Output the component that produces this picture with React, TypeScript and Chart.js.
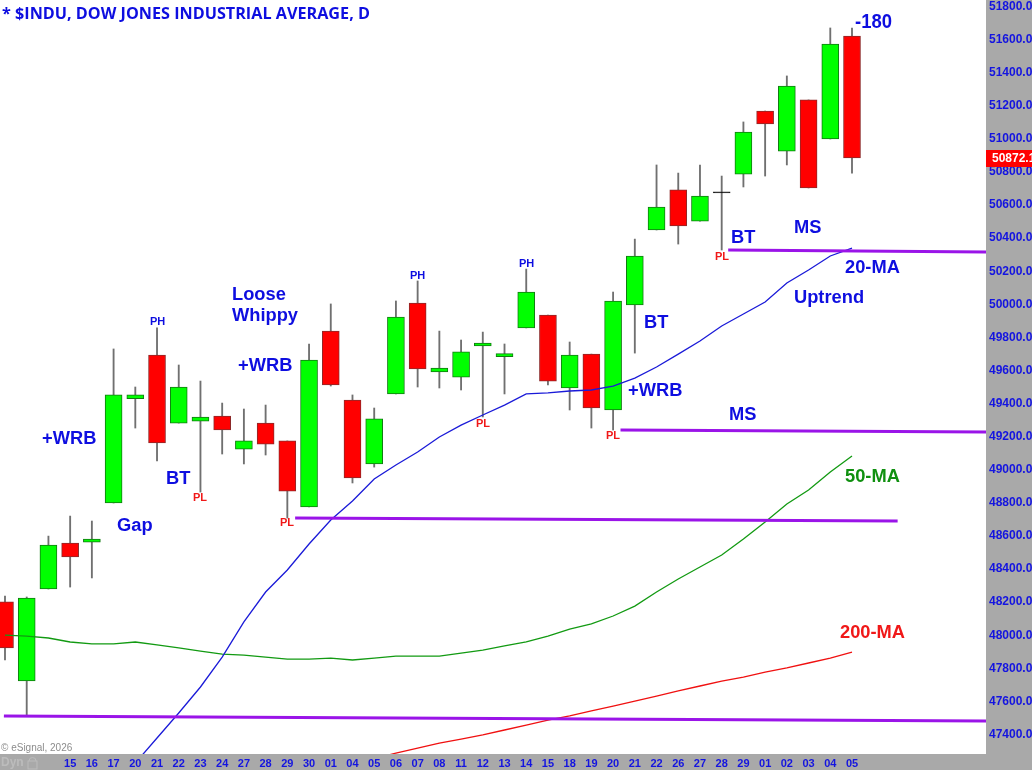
import React, { useEffect, useRef } from "react";
import { Chart, registerables } from "chart.js";

Chart.register(...registerables);

const dayLabels = ["", "", "", "15", "16", "17", "20", "21", "22", "23", "24", "27", "28", "29", "30", "01", "04", "05", "06", "07", "08", "11", "12", "13", "14", "15", "18", "19", "20", "21", "22", "26", "27", "28", "29", "01", "02", "03", "04", "05"];
const opens = [48192, 47714, 48270, 48548, 48554, 48790, 49421, 49684, 49273, 49285, 49316, 49116, 49273, 49165, 48766, 49829, 49412, 49026, 49449, 49999, 49582, 49551, 49739, 49675, 49848, 49926, 49485, 49690, 49352, 49987, 50440, 50682, 50494, 50664, 50778, 51159, 50917, 51226, 50990, 51612];
const highs = [48228, 48222, 48590, 48711, 48681, 49721, 49491, 49848, 49624, 49527, 49394, 49358, 49382, 49165, 49751, 49993, 49443, 49364, 50011, 50132, 49829, 49775, 49823, 49751, 50204, 49926, 49763, 49690, 50065, 50385, 50833, 50784, 50833, 50766, 51093, 51159, 51371, 51226, 51661, 51661];
const lows = [47841, 47502, 48270, 48282, 48337, 48790, 49243, 49044, 49273, 48856, 49086, 49026, 49080, 48699, 48766, 49497, 48911, 49007, 49449, 49491, 49485, 49473, 49310, 49449, 49848, 49503, 49352, 49243, 49231, 49696, 50440, 50355, 50494, 50319, 50700, 50766, 50833, 50694, 50990, 50784];
const closes = [47914, 48216, 48536, 48464, 48572, 49443, 49443, 49153, 49491, 49310, 49231, 49165, 49146, 48862, 49654, 49503, 48941, 49298, 49914, 49600, 49606, 49703, 49757, 49693, 50065, 49527, 49684, 49364, 50011, 50283, 50579, 50464, 50645, 50664, 51032, 51081, 51310, 50694, 51564, 50875];
const ma20 = [null, null, null, null, null, null, 47218, 47370, 47521, 47678, 47859, 48071, 48252, 48385, 48542, 48687, 48802, 48935, 49020, 49098, 49189, 49261, 49322, 49382, 49449, 49455, 49467, 49473, 49497, 49545, 49612, 49690, 49769, 49860, 49932, 50005, 50120, 50198, 50283, 50331];
const ma50 = [47992, 47986, 47974, 47950, 47938, 47938, 47950, 47932, 47914, 47895, 47877, 47871, 47859, 47847, 47847, 47853, 47841, 47853, 47865, 47865, 47865, 47883, 47901, 47926, 47950, 47986, 48028, 48059, 48107, 48167, 48252, 48331, 48403, 48476, 48572, 48675, 48784, 48868, 48977, 49074];
const ma200 = [null, null, null, null, null, null, null, null, null, null, null, null, null, null, null, null, null, 47243, 47279, 47309, 47339, 47363, 47388, 47418, 47448, 47478, 47503, 47533, 47563, 47593, 47623, 47654, 47684, 47714, 47738, 47768, 47793, 47823, 47853, 47889];
const levelLow = [{ x: -0.05, y: 47502 }, { x: 45.17, y: 47472 }];
const levelMid = [{ x: 13.36, y: 48699 }, { x: 41.1, y: 48681 }];
const levelHigh = [{ x: 28.34, y: 49231 }, { x: 45.17, y: 49219 }];
const levelTop = [{ x: 33.3, y: 50319 }, { x: 45.17, y: 50307 }];
const lastPrice = "50872.1";

const BLUE = "#0e0ee0";
const RED = "#f01818";
const GREEN = "#109010";
const BIG = "bold 18.3px 'Liberation Sans'";
const SMALL = "bold 11px 'Liberation Sans'";
const notes: [string, number, number, string, string, number?][] = [
  ["+WRB", 42, 439, BIG, BLUE],
  ["Gap", 117, 526, BIG, BLUE],
  ["BT", 166, 479, BIG, BLUE],
  ["Loose", 232, 295, BIG, BLUE],
  ["Whippy", 232, 316, BIG, BLUE],
  ["+WRB", 238, 366, BIG, BLUE],
  ["BT", 644, 323, BIG, BLUE],
  ["+WRB", 628, 391, BIG, BLUE],
  ["MS", 729, 415, BIG, BLUE],
  ["BT", 731, 238, BIG, BLUE],
  ["MS", 794, 228, BIG, BLUE],
  ["20-MA", 845, 268, BIG, BLUE],
  ["Uptrend", 794, 298, BIG, BLUE],
  ["50-MA", 845, 477, BIG, GREEN],
  ["200-MA", 840, 633, BIG, RED],
  ["-180", 855, 22, "bold 21px 'Liberation Sans'", BLUE, 37],
  ["PH", 150, 322, SMALL, BLUE],
  ["PH", 410, 276, SMALL, BLUE],
  ["PH", 519, 264, SMALL, BLUE],
  ["PL", 193, 498, SMALL, RED],
  ["PL", 280, 523, SMALL, RED],
  ["PL", 476, 424, SMALL, RED],
  ["PL", 606, 436, SMALL, RED],
  ["PL", 715, 257, SMALL, RED],
];

const paintPlugin = {
  id: "paint",
  beforeDraw(chart: any) {
    const { ctx, chartArea: a, width, height } = chart;
    ctx.save();
    ctx.fillStyle = "#a9a9a9";
    ctx.fillRect(0, 0, width, height);
    ctx.fillStyle = "#ffffff";
    ctx.fillRect(a.left, a.top, a.right - a.left, a.bottom - a.top);
    ctx.restore();
  },
  afterDraw(chart: any) {
    const { ctx, chartArea: a } = chart;
    ctx.save();
    ctx.textBaseline = "middle";
    ctx.textAlign = "left";
    for (const [t, x, y, font, color, maxW] of notes) {
      ctx.font = font;
      ctx.fillStyle = color;
      if (maxW) ctx.fillText(t, x, y, maxW);
      else ctx.fillText(t, x, y);
    }
    ctx.font = "bold 16.2px 'Open Sans'";
    ctx.fillStyle = BLUE;
    ctx.fillText("* $INDU, DOW JONES INDUSTRIAL AVERAGE, D", 2, 14);
    ctx.font = "10px 'Liberation Sans'";
    ctx.fillStyle = "#8c8c8c";
    ctx.fillText("© eSignal, 2026", 1, 748);
    ctx.font = "bold 12px 'Liberation Sans'";
    ctx.fillStyle = "#bcbcbc";
    ctx.fillText("Dyn", 1, 763);
    ctx.strokeStyle = "#bcbcbc";
    ctx.lineWidth = 1;
    ctx.strokeRect(28, 761, 9, 8);
    ctx.beginPath();
    ctx.arc(32.5, 761, 3.5, Math.PI, 0);
    ctx.stroke();
    // current price tag
    ctx.fillStyle = "#ff0000";
    ctx.fillRect(a.right, 150, 46, 17);
    ctx.fillStyle = "#ffffff";
    ctx.font = "bold 12px 'Liberation Sans'";
    ctx.fillText(lastPrice, 992, 159);
    ctx.restore();
  },
};

const points = (vals: (number | null)[]) => vals.map((y, x) => ({ x, y }));
const lineSet = (data: any[], color: string, width: number) => ({
  type: "line" as const,
  data,
  borderColor: color,
  backgroundColor: color,
  borderWidth: width,
  pointRadius: 0,
  tension: 0,
  spanGaps: false,
  order: 0,
});

export default function App() {
  const ref = useRef<HTMLCanvasElement>(null);
  useEffect(() => {
    const fill = closes.map((c, i) => (c > opens[i] ? "#00ff00" : c < opens[i] ? "#ff0000" : "#000000"));
    const edge = closes.map((c, i) => (c > opens[i] ? "#127a12" : c < opens[i] ? "#8c2a2a" : "#333333"));
    const chart = new Chart(ref.current!, {
      type: "bar",
      data: {
        datasets: [
          lineSet(levelLow, "#9a14e8", 3),
          lineSet(levelMid, "#9a14e8", 3),
          lineSet(levelHigh, "#9a14e8", 3),
          lineSet(levelTop, "#9a14e8", 3),
          lineSet(points(ma20), "#1a1ad8", 1.3),
          lineSet(points(ma50), "#129a12", 1.3),
          lineSet(points(ma200), "#f01010", 1.3),
          {
            data: closes.map((c, i) => ({ x: i, y: [opens[i], c === opens[i] ? c + 6 : c] })),
            backgroundColor: fill,
            borderColor: edge,
            borderWidth: 1,
            borderSkipped: false,
            barThickness: 17,
            grouped: false,
            order: 1,
          },
          {
            data: highs.map((h, i) => ({ x: i, y: [lows[i], h] })),
            backgroundColor: "#707070",
            borderWidth: 0,
            barThickness: 1.2,
            grouped: false,
            order: 2,
          },
        ] as any,
      },
      options: {
        animation: false,
        responsive: false,
        devicePixelRatio: 1,
        layout: { padding: 0 },
        plugins: { legend: { display: false }, tooltip: { enabled: false } },
        scales: {
          x: {
            type: "linear",
            min: -0.23,
            max: 45.17,
            offset: false,
            grid: { display: false, drawTicks: false },
            border: { display: false },
            afterBuildTicks(s: any) {
              s.ticks = dayLabels.map((_, value) => ({ value }));
            },
            afterFit(s: any) {
              s.height = 16;
              s.paddingLeft = 0;
              s.paddingRight = 0;
            },
            ticks: {
              autoSkip: false,
              maxRotation: 0,
              padding: 3,
              color: "#1414e0",
              font: { family: "'Liberation Sans'", size: 11, weight: "bold" },
              callback: (v: any) => dayLabels[v] ?? "",
            },
          },
          y: {
            position: "right",
            min: 47273,
            max: 51830,
            grid: { display: false, drawTicks: false },
            border: { display: false },
            afterBuildTicks(s: any) {
              const t = [];
              for (let v = 47400; v <= 51800; v += 200) t.push({ value: v });
              s.ticks = t;
            },
            afterFit(s: any) {
              s.width = 46;
              s.paddingTop = 0;
              s.paddingBottom = 0;
            },
            ticks: {
              autoSkip: false,
              padding: 3,
              labelOffset: 1.5,
              color: "#1414e0",
              font: { family: "'Liberation Sans'", size: 12, weight: "bold" },
              callback: (v: any) => Number(v).toFixed(2),
            },
          },
        },
      } as any,
      plugins: [paintPlugin],
    });
    return () => chart.destroy();
  }, []);
  return (
    <div style={{ position: "fixed", left: 0, top: 0, width: 1032, height: 770 }}>
      <canvas ref={ref} width={1032} height={770} style={{ display: "block" }} />
    </div>
  );
}
